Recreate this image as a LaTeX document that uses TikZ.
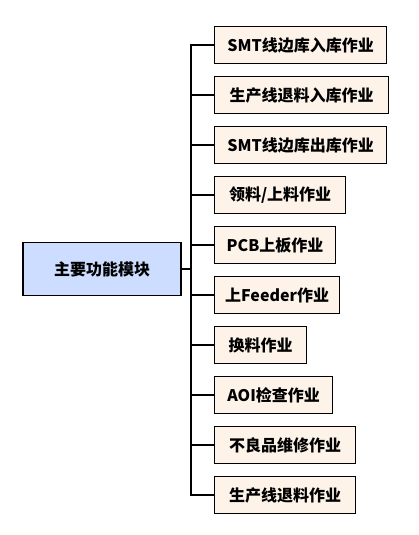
\documentclass[tikz,border=0pt]{standalone}
\usepackage{fontspec}
\setmainfont{Noto Sans CJK SC}
\definecolor{rootblue}{RGB}{204,221,255}
\definecolor{taskpeach}{RGB}{254,243,233}
\tikzset{
  rootbox/.style={draw, line width=1.2pt, fill=rootblue, minimum width=158pt, minimum height=53pt, font=\fontsize{16}{18}\selectfont\bfseries},
  taskbox/.style={draw, line width=1.2pt, fill=taskpeach, anchor=west, inner xsep=4pt, minimum height=37pt, minimum width=#1, font=\fontsize{16}{18}\selectfont\bfseries},
  link/.style={line width=1.2pt}
}
\begin{document}
\begin{tikzpicture}[x=1pt, y=-1pt]
\useasboundingbox (0, 0) rectangle (418, 535);
\node[rootbox](main) at (102, 269) {主要功能模块};
\node[taskbox=172pt](smtin) at (214, 45) {SMT线边库入库作业};
\node[taskbox=174pt](linein) at (214, 95) {生产线退料入库作业};
\node[taskbox=172pt](smtout) at (214, 145) {SMT线边库出库作业};
\node[taskbox=131pt](feed) at (214, 195) {领料/上料作业};
\node[taskbox=121pt](pcb) at (214, 245) {PCB上板作业};
\node[taskbox=125pt](feeder) at (214, 295) {上Feeder作业};
\node[taskbox=92pt](swap) at (214, 345) {换料作业};
\node[taskbox=118pt](aoi) at (214, 395) {AOI检查作业};
\node[taskbox=141pt](repair) at (214, 445) {不良品维修作业};
\node[taskbox=141pt](lineret) at (214, 495) {生产线退料作业};
\coordinate(trunk) at (191, 269);
\foreach \t in {smtin, linein, smtout, feed, pcb, feeder, swap, aoi, repair, lineret}
  \draw[link] (main) -- (trunk) |- (\t);
\end{tikzpicture}
\end{document}
